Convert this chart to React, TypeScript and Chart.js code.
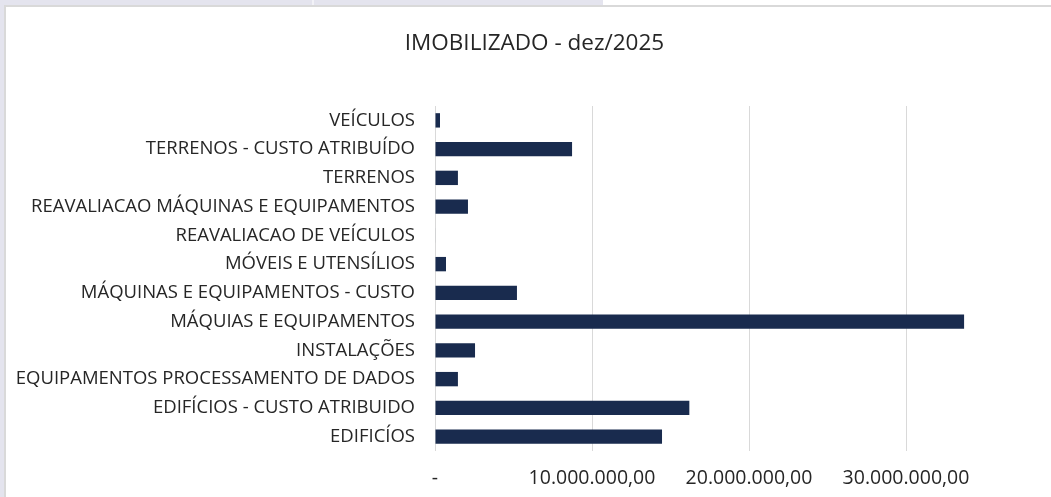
import React, { useEffect, useRef } from 'react';
import { Chart, registerables } from 'chart.js';

Chart.register(...registerables);

const chartTitle = 'IMOBILIZADO - dez/2025';

const categories = [
  'VEÍCULOS',
  'TERRENOS - CUSTO ATRIBUÍDO',
  'TERRENOS',
  'REAVALIACAO MÁQUINAS E EQUIPAMENTOS',
  'REAVALIACAO DE VEÍCULOS',
  'MÓVEIS E UTENSÍLIOS',
  'MÁQUINAS E EQUIPAMENTOS - CUSTO',
  'MÁQUIAS E EQUIPAMENTOS',
  'INSTALAÇÕES',
  'EQUIPAMENTOS PROCESSAMENTO DE DADOS',
  'EDIFÍCIOS - CUSTO ATRIBUIDO',
  'EDIFICÍOS',
];

const values = [
  320000,
  8730000,
  1460000,
  2100000,
  30000,
  700000,
  5220000,
  33700000,
  2550000,
  1460000,
  16200000,
  14460000,
];

const xMin = 0;
const xMax = 40000000;
const xStep = 10000000;
const hiddenTickValues = [40000000];

function fmt(v: number): string {
  if (hiddenTickValues.includes(v)) return '';
  if (v === 0) return '-';
  const s = Math.round(v).toString().replace(/\B(?=(\d{3})+(?!\d))/g, '.');
  return s + ',00';
}

const FONT = '"Open Sans", "Noto Sans", sans-serif';

export default function App() {
  const ref = useRef<HTMLCanvasElement>(null);

  useEffect(() => {
    document.body.style.margin = '0';
    document.body.style.overflow = 'hidden';
    const chart = new Chart(ref.current!, {
      type: 'bar',
      data: {
        labels: categories,
        datasets: [
          {
            data: values,
            backgroundColor: '#192b4e',
            borderWidth: 0,
            barPercentage: 0.5,
            categoryPercentage: 1,
          },
        ],
      },
      options: {
        indexAxis: 'y',
        responsive: false,
        animation: false,
        layout: { padding: { left: 0, right: 75, top: 0, bottom: 0 } },
        plugins: {
          legend: { display: false },
          tooltip: { enabled: false },
          title: {
            display: true,
            text: chartTitle,
            color: '#262626',
            font: { family: FONT, size: 22.5, weight: 'normal', lineHeight: 1.2 },
            padding: { top: 23, bottom: 49 },
          },
        },
        scales: {
          x: {
            type: 'linear',
            min: xMin,
            max: xMax,
            ticks: {
              stepSize: xStep,
              callback: (v: any) => fmt(Number(v)),
              color: '#262626',
              font: { family: FONT, size: 19.5 },
              padding: 16,
              maxRotation: 0,
            },
            grid: { color: '#d9d9d9', lineWidth: 1, drawTicks: false },
            border: { display: false },
            afterFit: (s: any) => {
              s.height = 46;
            },
          },
          y: {
            ticks: {
              color: '#262626',
              font: { family: FONT, size: 18.5 },
              padding: 20,
              autoSkip: false,
            },
            grid: { display: false, drawTicks: false },
            border: { display: false },
            afterFit: (s: any) => {
              s.width = 429;
            },
          },
        },
      },
    } as any);
    return () => chart.destroy();
  }, []);

  return (
    <div
      style={{
        position: 'fixed',
        left: 0,
        top: 0,
        width: 1051,
        height: 497,
        overflow: 'hidden',
        background: '#ffffff',
      }}
    >
      <div style={{ position: 'absolute', left: 0, top: 0, width: 603, height: 6, background: '#e4e4ee' }} />
      <div style={{ position: 'absolute', left: 312, top: 0, width: 2, height: 6, background: '#f2f2f7' }} />
      <div style={{ position: 'absolute', left: 0, top: 0, width: 5, height: 497, background: '#e4e4ee' }} />
      <div
        style={{
          position: 'absolute',
          left: 4,
          top: 5,
          width: 1200,
          height: 492,
          borderLeft: '2px solid #d9d9d9',
          borderTop: '2px solid #d9d9d9',
          background: '#ffffff',
        }}
      >
        <canvas ref={ref} width={1132} height={490} style={{ display: 'block', width: 1132, height: 490 }} />
      </div>
    </div>
  );
}
